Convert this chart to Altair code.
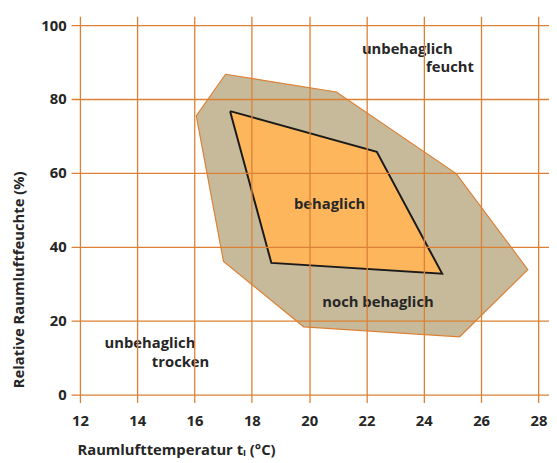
import altair as alt
import pandas as pd

# Outer zone ("noch behaglich") polygon vertices: temperature (°C), rel. humidity (%)
outer_t = [17.08, 20.95, 25.13, 27.63, 25.25, 19.81, 17.01, 16.06, 17.08]
outer_rh = [86.7, 81.9, 59.8, 33.8, 15.6, 18.3, 36.0, 75.4, 86.7]

# Inner zone ("behaglich") polygon vertices
inner_t = [17.24, 22.36, 24.64, 18.68, 17.24]
inner_rh = [76.7, 65.7, 32.7, 35.6, 76.7]

# Zone labels
label_text = ["unbehaglich", "feucht", "behaglich", "noch behaglich", "unbehaglich", "trocken"]
label_t = [21.84, 24.08, 19.47, 20.46, 12.86, 14.51]
label_rh = [93.6, 88.7, 51.6, 24.9, 13.8, 8.7]

x_ticks = [12, 14, 16, 18, 20, 22, 24, 26, 28]
y_ticks = [0, 10, 20, 30, 40, 50, 60, 70, 80, 90, 100]
y_labels = [0, 20, 40, 60, 80, 100]

GRID = "#DC8035"
TXT = "#262626"
FONT = "Open Sans"

outer_df = pd.DataFrame({"t": outer_t, "rh": outer_rh, "i": range(len(outer_t))})
inner_df = pd.DataFrame({"t": inner_t, "rh": inner_rh, "i": range(len(inner_t))})
lab_df = pd.DataFrame({"text": label_text, "t": label_t, "rh": label_rh})

xscale = alt.Scale(domain=[11.69, 28.37], nice=False, zero=False)
yscale = alt.Scale(domain=[-2.2, 102.4], nice=False, zero=False)

label_expr = "indexof([0,20,40,60,80,100], datum.value) >= 0 ? datum.label : ''"

xenc = alt.X(
    "t:Q", scale=xscale,
    axis=alt.Axis(
        values=x_ticks, grid=True, gridColor=GRID, gridWidth=1.3, gridOpacity=1,
        domain=False, ticks=False, labelPadding=11, labelFont=FONT, labelFontSize=15,
        labelFontWeight="bold", labelColor=TXT, zindex=1,
        title="Raumlufttemperatur tₗ (°C)", titleFont=FONT, titleFontSize=15,
        titleFontWeight="bold", titleColor=TXT, titleX=6, titleY=48,
        titleAlign="left", titleBaseline="middle", titleAnchor="start",
    ),
)
yenc = alt.Y(
    "rh:Q", scale=yscale,
    axis=alt.Axis(
        values=y_ticks, grid=True, gridColor=GRID, gridWidth=1.3, gridOpacity=1,
        domain=False, ticks=False, labelPadding=5, labelFont=FONT, labelFontSize=15,
        labelFontWeight="bold", labelColor=TXT, labelExpr=label_expr, zindex=1,
        title="Relative Raumluftfeuchte (%)", titleFont=FONT, titleFontSize=15,
        titleFontWeight="bold", titleColor=TXT, titleAngle=-90, titleX=-53,
        titleY=267, titleAlign="center", titleBaseline="middle",
    ),
)

outer = alt.Chart(outer_df).mark_line(
    fill="#C6BA9B", stroke="#DC8035", strokeWidth=1.2, interpolate="linear"
).encode(x=xenc, y=yenc, order="i:Q")

inner = alt.Chart(inner_df).mark_line(
    fill="#FDB65C", stroke="#1a1a1a", strokeWidth=2, interpolate="linear"
).encode(x="t:Q", y="rh:Q", order="i:Q")

labels = alt.Chart(lab_df).mark_text(
    align="left", baseline="middle", font=FONT, fontSize=15, fontWeight="bold", color=TXT
).encode(x="t:Q", y="rh:Q", text="text:N")

chart = alt.layer(outer, inner, labels).properties(
    width=485, height=392,
    autosize=alt.AutoSizeParams(type="none"),
    padding={"left": 64, "top": 5, "right": 0, "bottom": 58},
    background="white",
).configure_view(stroke=None)

chart.save("out.html", embed_options={"renderer": "svg", "actions": False})
